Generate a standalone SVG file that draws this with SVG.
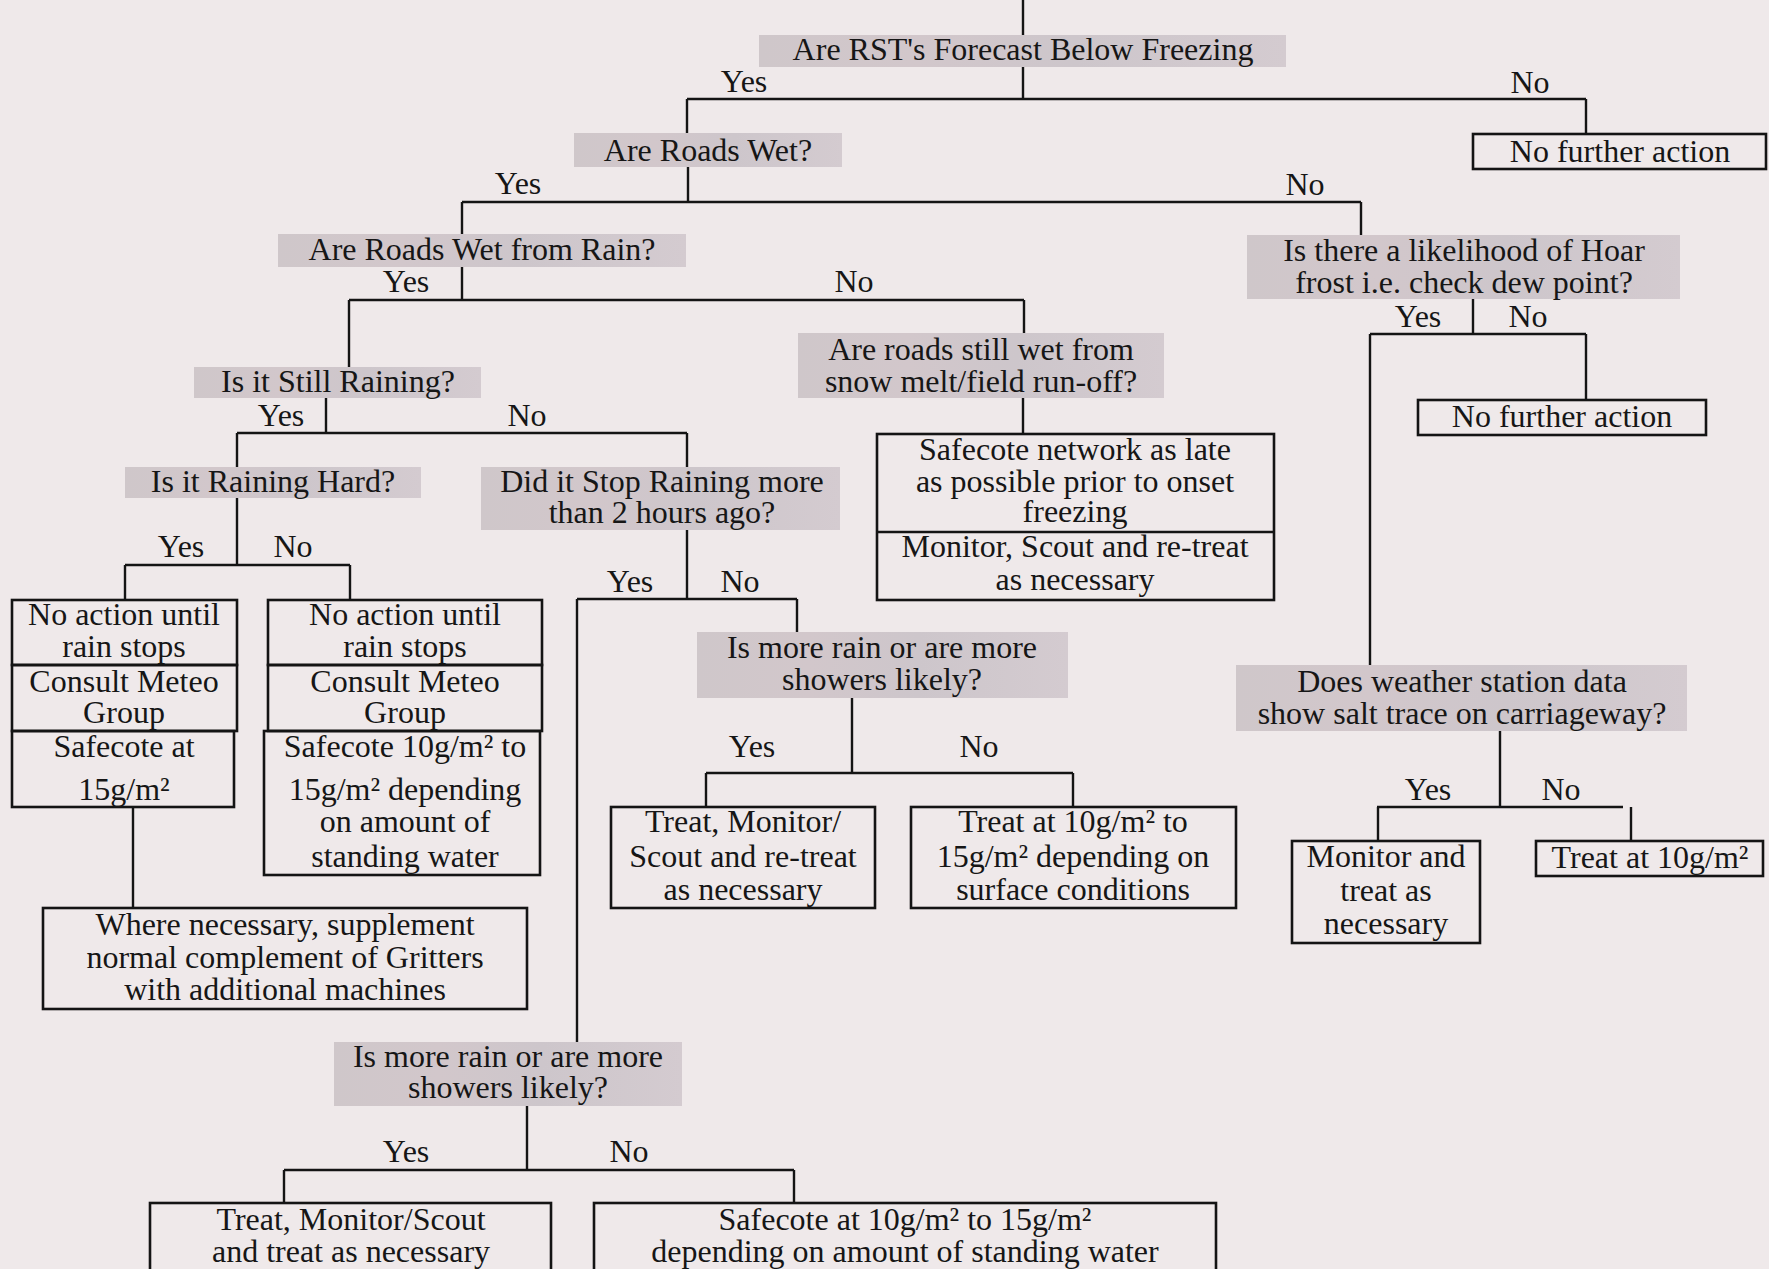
<svg xmlns="http://www.w3.org/2000/svg" width="1769" height="1269" viewBox="0 0 1769 1269">
<defs>
<linearGradient id="gq" x1="0" y1="0" x2="1" y2="0">
<stop offset="0" stop-color="#cfc7ca"/>
<stop offset="0.3" stop-color="#d2c7cb"/>
<stop offset="0.6" stop-color="#cdc6cb"/>
<stop offset="1" stop-color="#d4cbd0"/>
</linearGradient>
<style>
.q{fill:url(#gq);stroke:none}
.b{fill:none;stroke:#141414;stroke-width:2.6}
.c{fill:none;stroke:#141414;stroke-width:2.4}
text{font-family:"Liberation Serif","Times New Roman",serif;font-size:32px;fill:#161616;text-anchor:middle}
</style>
</defs>
<rect x="0" y="0" width="1769" height="1269" fill="#efe9ea"/>
<g id="connectors">
<path class="c" d="M1023,0 V35 M1023,67 V99 M687,99 H1586 M687,99 V133 M1586,99 V134"/>
<path class="c" d="M688,167 V202 M462,202 H1361 M462,202 V234 M1361,202 V235"/>
<path class="c" d="M1473,299 V334 M1370,334 H1586 M1586,334 V400 M1370,334 V665"/>
<path class="c" d="M1500,731 V807 M1377,807 H1623 M1378,807 V841 M1631,807 V841"/>
<path class="c" d="M462,267 V300 M349,300 H1024 M349,300 V367 M1024,300 V333 M1023,398 V434"/>
<path class="c" d="M326,398 V433 M237,433 H687 M237,433 V467 M687,433 V467"/>
<path class="c" d="M237,498 V565 M125,565 H350 M125,565 V600 M350,565 V600 M133,807 V908"/>
<path class="c" d="M687,530 V599 M577,599 H797 M797,599 V632 M577,599 V1042"/>
<path class="c" d="M852,698 V773 M706,773 H1073 M706,773 V807 M1073,773 V807"/>
<path class="c" d="M527,1106 V1170 M284,1170 H794 M284,1170 V1203 M794,1170 V1203"/>
<text x="744" y="92">Yes</text><text x="1530" y="93">No</text>
<text x="518" y="194">Yes</text><text x="1305" y="195">No</text>
<text x="1418" y="327">Yes</text><text x="1528" y="327">No</text>
<text x="1428" y="800">Yes</text><text x="1561" y="800">No</text>
<text x="406" y="292">Yes</text><text x="854" y="292">No</text>
<text x="281" y="426">Yes</text><text x="527" y="426">No</text>
<text x="181" y="557">Yes</text><text x="293" y="557">No</text>
<text x="630" y="592">Yes</text><text x="740" y="592">No</text>
<text x="752" y="757">Yes</text><text x="979" y="757">No</text>
<text x="406" y="1162">Yes</text><text x="629" y="1162">No</text>
</g>
<g id="n-rst"><rect class="q" x="759" y="35" width="527" height="32"/><text x="1023" y="60">Are RST's Forecast Below Freezing</text></g>
<g id="n-nofurther1"><rect class="b" x="1473" y="134" width="293" height="35"/><text x="1620" y="162">No further action</text></g>
<g id="n-roadswet"><rect class="q" x="574" y="133" width="268" height="34"/><text x="708" y="161">Are Roads Wet?</text></g>
<g id="n-hoar"><rect class="q" x="1247" y="235" width="433" height="64"/><text x="1464" y="261">Is there a likelihood of Hoar</text><text x="1464" y="293">frost i.e. check dew point?</text></g>
<g id="n-nofurther2"><rect class="b" x="1418" y="400" width="288" height="35"/><text x="1562" y="427">No further action</text></g>
<g id="n-weather"><rect class="q" x="1236" y="665" width="451" height="66"/><text x="1462" y="692">Does weather station data</text><text x="1462" y="724">show salt trace on carriageway?</text></g>
<g id="n-monitortreat"><rect class="b" x="1292" y="841" width="188" height="102"/><text x="1386" y="867">Monitor and</text><text x="1386" y="901">treat as</text><text x="1386" y="934">necessary</text></g>
<g id="n-treat10"><rect class="b" x="1536" y="841" width="227" height="35"/><text x="1650" y="868">Treat at 10g/m²</text></g>
<g id="n-wetrain"><rect class="q" x="278" y="234" width="408" height="33"/><text x="482" y="260">Are Roads Wet from Rain?</text></g>
<g id="n-snowmelt"><rect class="q" x="798" y="333" width="366" height="65"/><text x="981" y="360">Are roads still wet from</text><text x="981" y="392">snow melt/field run-off?</text></g>
<g id="n-safecotenet"><rect class="b" x="877" y="434" width="397" height="166"/><path class="b" d="M877,532 H1274"/><text x="1075" y="460">Safecote network as late</text><text x="1075" y="492">as possible prior to onset</text><text x="1075" y="522">freezing</text><text x="1075" y="557">Monitor, Scout and re-treat</text><text x="1075" y="590">as necessary</text></g>
<g id="n-stillraining"><rect class="q" x="194" y="367" width="287" height="31"/><text x="338" y="392">Is it Still Raining?</text></g>
<g id="n-raininghard"><rect class="q" x="125" y="467" width="296" height="31"/><text x="273" y="492">Is it Raining Hard?</text></g>
<g id="n-leftstack"><rect class="b" x="12" y="600" width="225" height="65"/><rect class="b" x="12" y="665" width="225" height="66"/><rect class="b" x="12" y="731" width="222" height="76"/><text x="124" y="625">No action until</text><text x="124" y="657">rain stops</text><text x="124" y="692">Consult Meteo</text><text x="124" y="723">Group</text><text x="124" y="757">Safecote at</text><text x="124" y="800">15g/m²</text></g>
<g id="n-rightstack"><rect class="b" x="268" y="600" width="274" height="65"/><rect class="b" x="268" y="665" width="274" height="66"/><rect class="b" x="264" y="731" width="276" height="144"/><text x="405" y="625">No action until</text><text x="405" y="657">rain stops</text><text x="405" y="692">Consult Meteo</text><text x="405" y="723">Group</text><text x="405" y="757">Safecote 10g/m² to</text><text x="405" y="800">15g/m² depending</text><text x="405" y="832">on amount of</text><text x="405" y="867">standing water</text></g>
<g id="n-wherenecessary"><rect class="b" x="43" y="908" width="484" height="101"/><text x="285" y="935">Where necessary, supplement</text><text x="285" y="968">normal complement of Gritters</text><text x="285" y="1000">with additional machines</text></g>
<g id="n-didstop"><rect class="q" x="481" y="467" width="359" height="63"/><text x="662" y="492">Did it Stop Raining more</text><text x="662" y="523">than 2 hours ago?</text></g>
<g id="n-morerain1"><rect class="q" x="697" y="632" width="371" height="66"/><text x="882" y="658">Is more rain or are more</text><text x="882" y="690">showers likely?</text></g>
<g id="n-treatmonitor1"><rect class="b" x="611" y="807" width="264" height="101"/><text x="743" y="832">Treat, Monitor/</text><text x="743" y="867">Scout and re-treat</text><text x="743" y="900">as necessary</text></g>
<g id="n-treat10to15"><rect class="b" x="911" y="807" width="325" height="101"/><text x="1073" y="832">Treat at 10g/m² to</text><text x="1073" y="867">15g/m²  depending on</text><text x="1073" y="900">surface conditions</text></g>
<g id="n-morerain2"><rect class="q" x="334" y="1042" width="348" height="64"/><text x="508" y="1067">Is more rain or are more</text><text x="508" y="1098">showers likely?</text></g>
<g id="n-treatscout"><rect class="b" x="150" y="1203" width="401" height="80"/><text x="351" y="1230">Treat, Monitor/Scout</text><text x="351" y="1262">and treat as necessary</text></g>
<g id="n-safecotebottom"><rect class="b" x="594" y="1203" width="622" height="80"/><text x="905" y="1230">Safecote at 10g/m² to 15g/m²</text><text x="905" y="1262">depending on amount of standing water</text></g>
</svg>
